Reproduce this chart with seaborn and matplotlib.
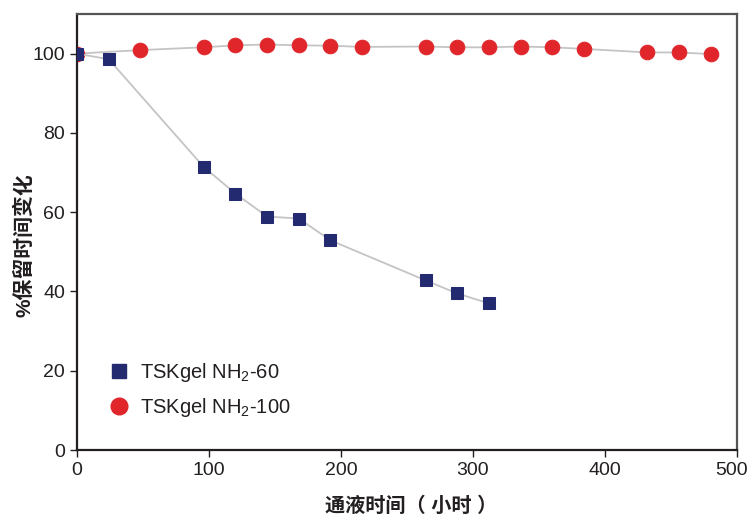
import matplotlib
matplotlib.use('Agg')
import matplotlib.pyplot as plt
import matplotlib.transforms as mtransforms
from matplotlib.lines import Line2D
import seaborn as sns
import pandas as pd

# data
hours_60 = [0, 24, 96, 120, 144, 168, 192, 264, 288, 312]
retention_60 = [100, 98.6, 71.4, 64.7, 58.9, 58.4, 52.9, 42.8, 39.5, 37.0]

hours_100 = [0, 48, 96, 120, 144, 168, 192, 216, 264, 288, 312, 336, 360, 384, 432, 432, 456, 480]
retention_100 = [100, 100.9, 101.6, 102.1, 102.3, 102.1, 102.0, 101.7, 101.8, 101.6, 101.6, 101.8,
                 101.6, 101.2, 100.6, 100.0, 100.3, 99.9]

labels = ['TSKgel NH$_2$-60', 'TSKgel NH$_2$-100']
x_ticks = [0, 100, 200, 300, 400, 500]
y_ticks = [0, 20, 40, 60, 80, 100]

df60 = pd.DataFrame({'hours': hours_60, 'retention': retention_60})
df100 = pd.DataFrame({'hours': hours_100, 'retention': retention_100})

navy = '#242a70'
red = '#e0262a'
line_gray = '#c4c4c4'
ink = '#231f20'

sns.set_style('white')
plt.rcParams['font.family'] = ['Liberation Sans', 'Noto Sans CJK SC', 'DejaVu Sans']
plt.rcParams['mathtext.fontset'] = 'custom'
plt.rcParams['mathtext.rm'] = 'Liberation Sans'

fig = plt.figure(figsize=(7.5, 5.15), dpi=100)
ax = fig.add_axes([0.1027, 0.1262, 0.88, 0.8466])

sns.lineplot(data=df100, x='hours', y='retention', ax=ax, sort=False, color=line_gray,
             linewidth=1.3, marker='o', markersize=10.5, markerfacecolor=red,
             markeredgecolor=red, zorder=2)
sns.lineplot(data=df60, x='hours', y='retention', ax=ax, sort=False, color=line_gray,
             linewidth=1.3, marker='s', markersize=9, markerfacecolor=navy,
             markeredgecolor=navy, zorder=3)

ax.set_xlim(0, 500)
ax.set_ylim(0, 110)
ax.set_xticks(x_ticks)
ax.set_yticks(y_ticks)
ax.tick_params(axis='both', direction='out', length=5, width=1, colors=ink,
               labelsize=14, left=True, bottom=True)

# nudge the last x tick label so it stays inside the canvas
last = ax.get_xticklabels()[-1]
last.set_transform(last.get_transform() + mtransforms.ScaledTranslation(-4 / 72, 0, fig.dpi_scale_trans))

for side in ['left', 'bottom']:
    ax.spines[side].set_color(ink)
    ax.spines[side].set_linewidth(1.6)
for side in ['top', 'right']:
    ax.spines[side].set_color('#555555')
    ax.spines[side].set_linewidth(1.6)

ax.set_ylabel('%保留时间变化', fontsize=15, fontweight='bold', color=ink)
ax.set_xlabel('通液时间（ 小时 ）', fontsize=14.5, fontweight='bold', color=ink)
ax.yaxis.set_label_coords(-0.064, 0.47)
ax.xaxis.set_label_coords(0.506, -0.106)

handles = [
    Line2D([], [], linestyle='none', marker='s', markersize=10, color=navy),
    Line2D([], [], linestyle='none', marker='o', markersize=12, color=red),
]
ax.legend(handles, labels, loc='lower left', bbox_to_anchor=(0.021, 0.0285), frameon=False,
          fontsize=14.5, handlelength=1.0, handletextpad=0.55, labelspacing=0.6,
          labelcolor=ink)

plt.savefig('out.png', dpi=100)
